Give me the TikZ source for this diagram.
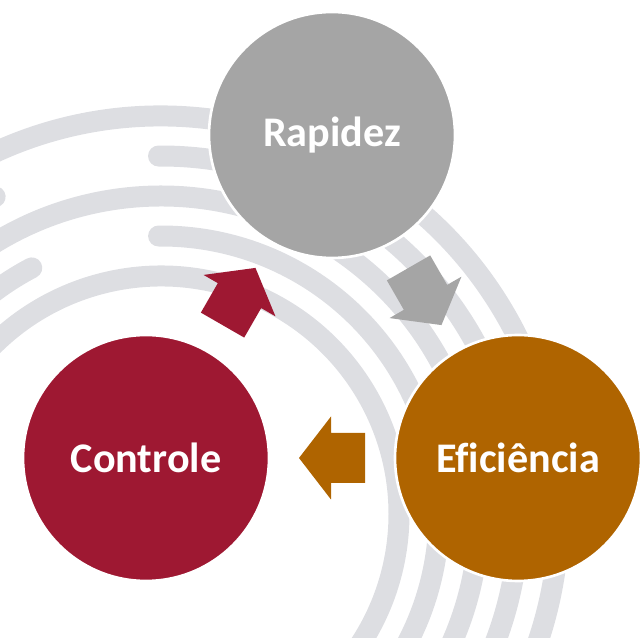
\documentclass[tikz,border=0pt]{standalone}
\usepackage{fontspec}
\setmainfont{Carlito}[Ligatures=CommonOff]
\usetikzlibrary{calc}
\definecolor{stripecol}{HTML}{DDDEE2}
\definecolor{rgray}{HTML}{A5A5A5}
\definecolor{eorange}{HTML}{AF6400}
\definecolor{ccrimson}{HTML}{9E1832}
\begin{document}
\begin{tikzpicture}[x=0.02cm,y=-0.02cm,
  stripe/.style={draw=stripecol, line width=0.42cm, line cap=round},
  bubble/.style={circle, fill=#1, draw=white, line width=1.5pt,
    minimum size=4.92cm, inner sep=0pt, text=white,
    font=\bfseries\fontsize{24}{28}\selectfont},
  blockarrow/.pic={\fill[#1] (-33,-25) -- (1,-25) -- (1,-41.5) -- (33,0)
    -- (1,41.5) -- (1,25) -- (-33,25) -- cycle;}
]
\useasboundingbox (0,0) rectangle (640,638);
\begin{scope}
  \clip (0,0) rectangle (640,638);
  \coordinate (O) at (161,514);
  \draw[stripe] (O) ++(-120:398) arc[start angle=-120, end angle=25, radius=398];
  \draw[stripe] (O) ++(-135:358) arc[start angle=-135, end angle=-117.6, radius=358];
  \draw[stripe] (O) ++(-90.4:358) arc[start angle=-90.4, end angle=25, radius=358];
  \draw[stripe] (O) ++(-140:318) arc[start angle=-140, end angle=30, radius=318];
  \draw[stripe] (O) ++(-150:278) arc[start angle=-150, end angle=-117.7, radius=278];
  \draw[stripe] (O) ++(-90.5:278) arc[start angle=-90.5, end angle=35, radius=278];
  \draw[stripe] (O) ++(-150:238) arc[start angle=-150, end angle=40, radius=238];
\end{scope}
\node[bubble=rgray] (R) at (332,135) {Rapidez};
\node[bubble=eorange] (E) at (518,458) {Eficiência};
\node[bubble=ccrimson] (C) at (146,458) {Controle};
\pic[rotate=-60.07] at ($(R)!0.5!(E)$) {blockarrow=rgray};
\pic[rotate=180] at ($(E)!0.5!(C)$) {blockarrow=eorange};
\pic[rotate=60.07] at ($(C)!0.5!(R)$) {blockarrow=ccrimson};
\end{tikzpicture}
\end{document}
